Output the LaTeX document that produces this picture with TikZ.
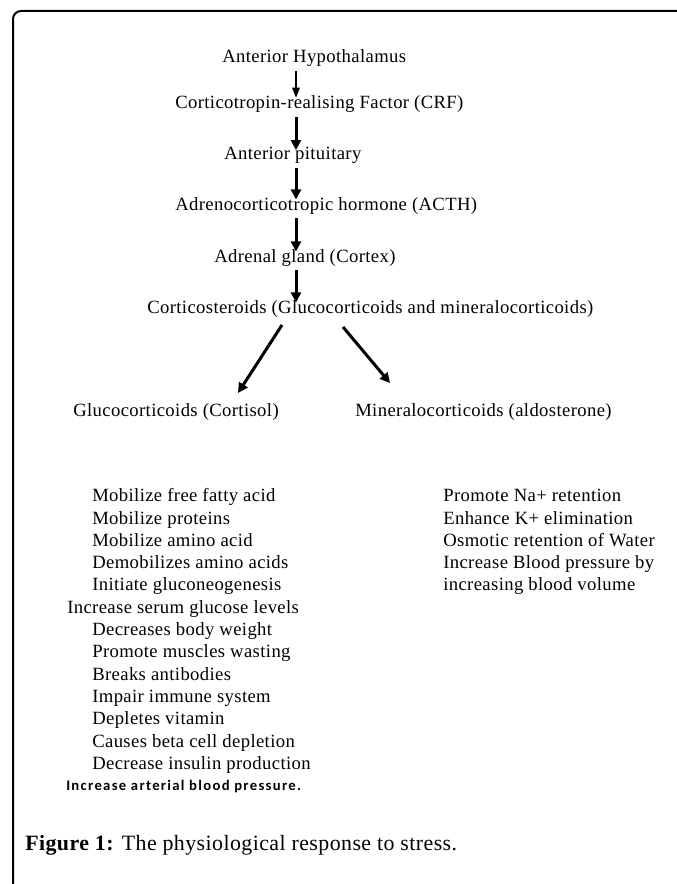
\documentclass[tikz,border=0pt]{standalone}
\usepackage{fontspec}
\setmainfont{Liberation Serif}[LetterSpace=2]
\newfontfamily\calfont{Carlito}[LetterSpace=9]
\usetikzlibrary{arrows.meta,calc}
\begin{document}
\begin{tikzpicture}
		[x=0.75pt,y=-0.75pt,
		lbl/.style={anchor=base west,inner sep=0pt,
			font=\fontsize{14}{16}\selectfont},
		boldnote/.style={anchor=base west,inner sep=0pt,
			font=\calfont\bfseries\fontsize{11}{13}\selectfont},
		caption/.style={anchor=base west,inner sep=0pt,
			font=\fontsize{16.4}{20}\selectfont},
		flow/.style={line width=2.25pt,
			-{Triangle[width=7.5pt,length=7.5pt]},
			shorten <=3pt,shorten >=-2pt},
		thinflow/.style={flow,line width=1pt,
			-{Triangle[width=5.5pt,length=7.5pt]}},
		slant/.style={line width=2.25pt,
			-{Triangle[width=7.5pt,length=7.5pt]}}]
		\useasboundingbox (0,0) rectangle (677,884);
		\draw[line width=1.5pt,rounded corners=6pt] (13,884) |- (677,11);
		\coordinate (axis) at (296,0);
		\node[lbl] (ah) at (222,62.3) {Anterior Hypothalamus};
		\node[lbl] (crf) at (175,108.3) {Corticotropin-realising Factor (CRF)};
		\node[lbl] (ap) at (224,160) {Anterior pituitary};
		\node[lbl] (acth) at (175,210) {Adrenocorticotropic hormone (ACTH)};
		\node[lbl] (ag) at (214,262) {Adrenal gland (Cortex)};
		\node[lbl] (cs) at (147,313) {Corticosteroids (Glucocorticoids and mineralocorticoids)};
		\node[lbl] (gc) at (73,416) {Glucocorticoids (Cortisol)};
		\node[lbl] (mc) at (355,416) {Mineralocorticoids (aldosterone)};
		\draw[thinflow] (ah.south -| axis) -- (crf.north -| axis);
		\draw[flow] (crf.south -| axis) -- (ap.north -| axis);
		\draw[flow] (ap.south -| axis) -- (acth.north -| axis);
		\draw[flow] (acth.south -| axis) -- (ag.north -| axis);
		\draw[flow] (ag.south -| axis) -- (cs.north -| axis);
		\draw[slant] ($(cs.base west)+(135,12)$) -- ($(gc.base west)+(165,-23)$);
		\draw[slant] ($(cs.base west)+(196,14)$) -- ($(mc.base west)+(35,-33)$);
		\node[lbl] (g1) at (92,501.7) {Mobilize free fatty acid};
		\node[lbl] (g2) at (92,524) {Mobilize proteins};
		\node[lbl] (g3) at (92,546.3) {Mobilize amino acid};
		\node[lbl] (g4) at (92,568.6) {Demobilizes amino acids};
		\node[lbl] (g5) at (92,590.9) {Initiate gluconeogenesis};
		\node[lbl] (g6) at (67,613.2) {Increase serum glucose levels};
		\node[lbl] (g7) at (92,635.5) {Decreases body weight};
		\node[lbl] (g8) at (92,657.8) {Promote muscles wasting};
		\node[lbl] (g9) at (92,680.1) {Breaks antibodies};
		\node[lbl] (g10) at (92,702.4) {Impair immune system};
		\node[lbl] (g11) at (92,724.7) {Depletes vitamin};
		\node[lbl] (g12) at (92,747) {Causes beta cell depletion};
		\node[lbl] (g13) at (92,769.3) {Decrease insulin production};
		\node[boldnote] (g14) at (66,790.7) {Increase arterial blood pressure.};
		\node[lbl] (m1) at (443,501.7) {Promote Na+ retention};
		\node[lbl] (m2) at (443,524) {Enhance K+ elimination};
		\node[lbl] (m3) at (443,546.3) {Osmotic retention of Water};
		\node[lbl] (m4) at (443,568.6) {Increase Blood pressure by};
		\node[lbl] (m5) at (443,590.9) {increasing blood volume};
		\node[caption] (cap) at (25,850) {\textbf{Figure 1:} The physiological response to stress.};
	\end{tikzpicture}
\end{document}
